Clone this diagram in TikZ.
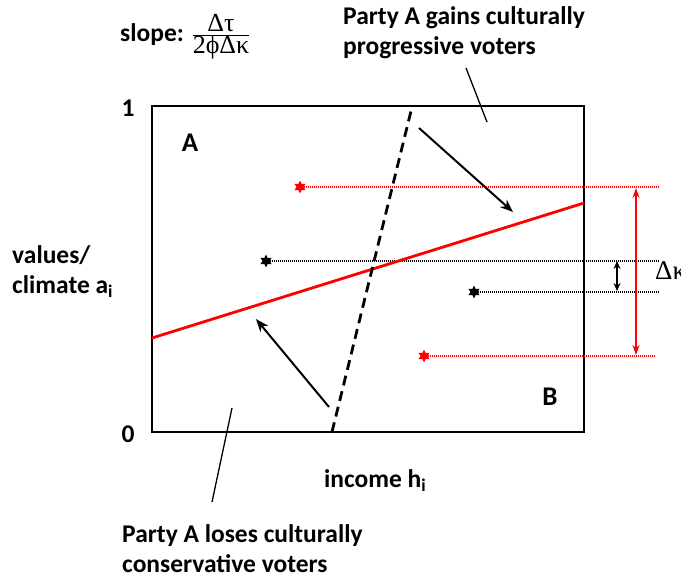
\documentclass[tikz,border=0pt]{standalone}
\usepackage{fontspec}
\setmainfont{Carlito}
\newfontfamily\grk{Liberation Serif}
\usetikzlibrary{shapes.geometric,arrows.meta}
\tikzset{
  lbl/.style={font=\fontsize{25.5}{30}\selectfont\bfseries, align=left, inner sep=0pt},
  big/.style={font=\fontsize{27}{27}\selectfont\bfseries, inner sep=0pt},
  voter/.style={star, star points=6, star point ratio=1.9, inner sep=0pt, minimum size=13pt, fill},
  guide/.style={line width=1.1pt, dash pattern=on 1pt off 1pt},
}
\newcommand{\grktxt}[1]{\hbox{\grk\mdseries\fontsize{26}{26}\selectfont #1}}
\begin{document}
\begin{tikzpicture}[x=1pt,y=-1pt]
  \useasboundingbox (0,0) rectangle (681,579);
  % box
  \coordinate (tl) at (152,106);
  \coordinate (br) at (584,432);
  \draw[line width=2.8pt] (tl) rectangle (br);
  \node[lbl] (one) at (128,108) {1};
  \node[lbl] (zero) at (128,434) {0};
  \node[big] (partyA) at (190,143) {A};
  \node[big] (partyB) at (550,397) {B};
  % axis labels
  \node[lbl, anchor=west] (vals) at (12,272) {values/\\climate a\textsubscript{i}};
  \node[lbl, anchor=west] (inc) at (324,481) {income h\textsubscript{i}};
  \node[lbl, anchor=west] (slope) at (120,37) {slope: $\frac{\grktxt{Δτ}}{\grktxt{2ϕΔκ}}$};
  % voters and their positions
  \foreach \n/\x/\y/\c/\e in {r1/300/187/red/659, k1/266/261/black/659, k2/474/292/black/659, r2/424/356/red/655}{
    \node[voter, \c] (\n) at (\x,\y) {};
    \coordinate (\n e) at (\e,\y);
    \draw[guide, \c] (\n) -- (\n e);
  }
  % cut-off lines
  \coordinate (cutA) at (152,338);
  \coordinate (cutB) at (584,203);
  \draw[red, line width=2.8pt] (cutA) -- (cutB);
  \coordinate (dashlo) at (332,432);
  \coordinate (dashhi) at (412,107);
  \draw[line width=2.8pt, dash pattern=on 10pt off 6pt] (dashlo) -- (dashhi);
  % shifts
  \draw[-{Stealth[length=13pt,width=10pt]}, line width=2pt] (419,128) -- (513,212);
  \draw[-{Stealth[length=13pt,width=10pt]}, line width=2pt] (329,407) -- (256,319);
  % distances
  \draw[{Stealth[length=8pt,width=7pt]}-{Stealth[length=8pt,width=7pt]}, line width=1.2pt] (617,261) -- (617,291);
  \draw[red, {Stealth[length=10pt,width=7pt]}-{Stealth[length=10pt,width=7pt]}, line width=1.2pt] (636,188) -- (636,355);
  \node[font=\grk\fontsize{27}{27}\selectfont, anchor=west, inner sep=0pt] (dk) at (655,271) {Δκ};
  % annotations
  \node[lbl, anchor=west] (gain) at (343,33) {Party A gains culturally\\progressive voters};
  \node[lbl, anchor=west] (lose) at (122,549) {Party A loses culturally\\conservative voters};
  \coordinate (gainpt) at (487,122);
  \coordinate (losept) at (232,408);
  \draw[line width=1.3pt] (466,68) -- (gainpt);
  \draw[line width=1.3pt] (212,502) -- (losept);
\end{tikzpicture}
\end{document}
